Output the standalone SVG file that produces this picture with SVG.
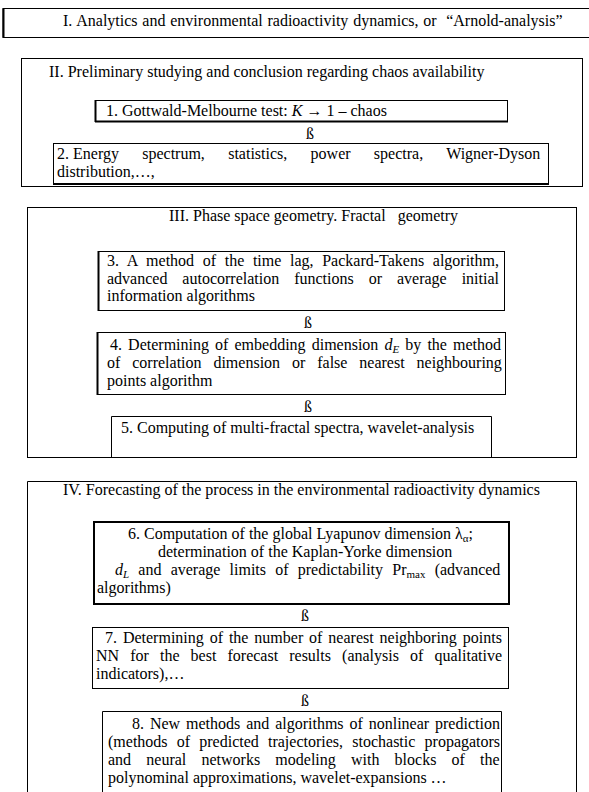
<svg xmlns="http://www.w3.org/2000/svg" width="589" height="792" viewBox="0 0 589 792">
<style>
.t{font-family:"Liberation Serif","Times New Roman",serif;font-size:16px;fill:#000}
.s{font-size:11px}
.b{fill:none;stroke:#000;stroke-width:1}
.k{fill:none;stroke:#000;stroke-width:2}
.a{font-family:"Liberation Serif","Times New Roman",serif;font-size:16px;fill:#000;text-anchor:middle}
</style>
<rect width="589" height="792" fill="#fff"/>
<g id="sectionI">
<path class="b" d="M589,8.5H3V37.5H589" stroke-width="1.3"/>
<line class="k" x1="3.5" y1="8" x2="3.5" y2="38" stroke-width="2.5"/>
<text class="t" x="63" y="26" word-spacing="0.8" xml:space="preserve">I. Analytics and environmental radioactivity dynamics, or  “Arnold-analysis”</text>
</g>
<g id="sectionII">
<rect class="b" x="21.5" y="58.5" width="561" height="128"/>
<text class="t" x="49" y="77" font-size="15.7">II. Preliminary studying and conclusion regarding chaos availability</text>
</g>
<g id="node1">
<rect class="b" x="95.5" y="100.5" width="412" height="21"/>
<line class="k" x1="95.5" y1="100" x2="95.5" y2="122"/>
<line class="k" x1="95" y1="121.5" x2="508" y2="121.5"/>
<text class="t" x="106" y="116">1. Gottwald-Melbourne test: <tspan font-style="italic">K</tspan> → 1 – chaos</text>
</g>
<g id="node2">
<rect class="b" x="53.5" y="143.5" width="495" height="41"/>
<line class="k" x1="53" y1="184" x2="549" y2="184" stroke-width="3"/>
<text class="t" x="57" y="159" word-spacing="19.3"><tspan word-spacing="0">2. </tspan>Energy spectrum, statistics, power spectra, Wigner-Dyson</text>
<text class="t" x="57" y="177">distribution,…,</text>
</g>
<g id="sectionIII">
<rect class="b" x="27.5" y="207.5" width="549" height="250"/>
<text class="t" x="169" y="221" xml:space="preserve">III. Phase space geometry. Fractal   geometry</text>
</g>
<g id="node3">
<rect class="b" x="98.5" y="251.5" width="406" height="59"/>
<line class="k" x1="98.5" y1="251" x2="98.5" y2="311"/>
<text class="t" x="107" y="266" word-spacing="4.65">3. A method of the time lag, Packard-Takens algorithm,</text>
<text class="t" x="107" y="284" word-spacing="10.96">advanced autocorrelation functions or average initial</text>
<text class="t" x="107" y="301">information algorithms</text>
</g>
<g id="node4">
<rect class="b" x="97.5" y="332.5" width="408" height="62"/>
<line class="k" x1="97.5" y1="332" x2="97.5" y2="395"/>
<text class="t" x="110" y="350" word-spacing="2.1">4. Determining of embedding dimension <tspan font-style="italic">d</tspan><tspan class="s" font-style="italic" dy="3">E</tspan><tspan dy="-3"> by the method</tspan></text>
<text class="t" x="107" y="368" word-spacing="7.9">of correlation dimension or false nearest neighbouring</text>
<text class="t" x="107" y="386">points algorithm</text>
</g>
<g id="node5">
<path class="b" d="M111.5,457.5V416.5H491.5V457.5"/>
<text class="t" x="121" y="433">5. Computing of multi-fractal spectra, wavelet-analysis</text>
</g>
<g id="sectionIV">
<path class="b" d="M27.5,792V481.5H576.5V792"/>
<text class="t" x="63" y="495">IV. Forecasting of the process in the environmental radioactivity dynamics</text>
</g>
<g id="node6">
<rect class="k" x="94" y="522" width="415" height="82"/>
<text class="t" x="128" y="539">6. Computation of the global Lyapunov dimension λ<tspan class="s" dy="3">α</tspan><tspan dy="-3">;</tspan></text>
<text class="t" x="158" y="557">determination of the Kaplan-Yorke dimension</text>
<text class="t" x="115" y="575" word-spacing="5.2"><tspan font-style="italic">d</tspan><tspan class="s" font-style="italic" dy="3">L</tspan><tspan dy="-3"> and average limits of predictability Pr</tspan><tspan class="s" dy="3">max</tspan><tspan dy="-3"> (advanced</tspan></text>
<text class="t" x="97" y="593">algorithms)</text>
</g>
<g id="node7">
<rect class="b" x="92.5" y="627.5" width="416" height="61" stroke-width="1.5"/>
<text class="t" x="105" y="643" word-spacing="1.9">7. Determining of the number of nearest neighboring points</text>
<text class="t" x="96" y="661" word-spacing="7.1">NN for the best forecast results (analysis of qualitative</text>
<text class="t" x="96" y="679">indicators),…</text>
</g>
<g id="node8">
<path class="b" d="M102.5,792V711.5H501.5V792"/>
<text class="t" x="132" y="729" word-spacing="1.9">8. New methods and algorithms of nonlinear prediction</text>
<text class="t" x="108" y="747" word-spacing="5.2">(methods of predicted trajectories, stochastic propagators</text>
<text class="t" x="108" y="765" word-spacing="11.2">and neural networks modeling with blocks of the</text>
<text class="t" x="108" y="783">polynominal approximations, wavelet-expansions …</text>
</g>
<g id="connectors">
<text class="a" x="310" y="139">ß</text>
<text class="a" x="308" y="328">ß</text>
<text class="a" x="308" y="412">ß</text>
<text class="a" x="305" y="621">ß</text>
<text class="a" x="305" y="706">ß</text>
</g>
</svg>
